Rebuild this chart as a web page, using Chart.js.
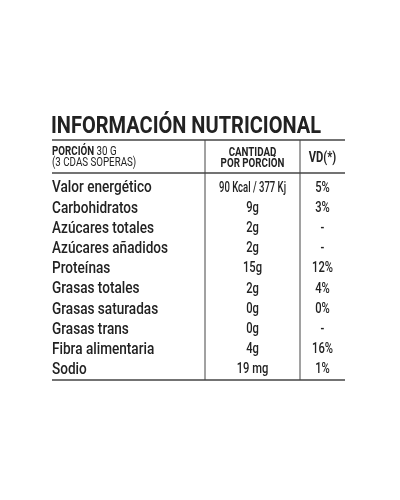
<!DOCTYPE html>
<html><head><meta charset="utf-8">
<script src="https://cdn.jsdelivr.net/npm/chart.js@4"></script>
<style>html,body{margin:0;background:#fff}</style></head>
<body><canvas id="c" width="400" height="500"></canvas>
<script>
const nutrients = ["Valor energético","Carbohidratos","Azúcares totales","Azúcares añadidos","Proteínas","Grasas totales","Grasas saturadas","Grasas trans","Fibra alimentaria","Sodio"];
const amounts = ["90 Kcal / 377 Kj","9g","2g","2g","15g","2g","0g","0g","4g","19 mg"];
const dailyValues = ["5%","3%","-","-","12%","4%","0%","-","16%","1%"];
const title = "INFORMACIÓN NUTRICIONAL";
const FN = 'Roboto,sans-serif';
function txt(ctx, s, x, y, font, align, sx){
  ctx.save(); ctx.font=font; ctx.textAlign=align;
  ctx.translate(x,y); ctx.scale(sx,1); ctx.fillText(s,0,0); ctx.restore();
}
const tablePlugin = {
  id:'table',
  afterDraw(chart){
    const ctx = chart.ctx, ys = chart.scales.y, a = chart.chartArea;
    const L=a.left, R=a.right, c1=205, c2=300, top=140;
    ctx.save();
    ctx.fillStyle='#222'; ctx.textBaseline='alphabetic';
    txt(ctx,title,L-1,133,'bold 23px '+FN,'left',0.87);
    ctx.strokeStyle='#444'; ctx.lineWidth=1.5;
    [top, 173, a.bottom].forEach(y=>{ctx.beginPath();ctx.moveTo(L,y);ctx.lineTo(R,y);ctx.stroke();});
    ctx.lineWidth=1;
    [c1,c2].forEach(x=>{ctx.beginPath();ctx.moveTo(x,top);ctx.lineTo(x,a.bottom);ctx.stroke();});
    txt(ctx,'PORCIÓN',L,155,'bold 13px '+FN,'left',0.75);
    ctx.font='bold 13px '+FN;
    const w=ctx.measureText('PORCIÓN ').width*0.75;
    txt(ctx,'30 G',L+w,155,'13px '+FN,'left',0.75);
    txt(ctx,'(3 CDAS SOPERAS)',L,166,'13px '+FN,'left',0.75);
    txt(ctx,'CANTIDAD',(c1+c2)/2,156,'bold 13px '+FN,'center',0.75);
    txt(ctx,'POR PORCIÓN',(c1+c2)/2,167,'bold 13px '+FN,'center',0.75);
    txt(ctx,'VD(*)',(c2+R)/2,162,'bold 14px '+FN,'center',0.8);
    ctx.textBaseline='middle';
    nutrients.forEach((n,i)=>{
      const y = ys.getPixelForValue(i);
      txt(ctx,n,L,y,'500 17px '+FN,'left',0.8);
      txt(ctx,amounts[i],(c1+c2)/2,y,'500 14px '+FN,'center',amounts[i].length>6?0.68:0.8);
      txt(ctx,dailyValues[i],(c2+R)/2,y,'500 14px '+FN,'center',0.8);
    });
    ctx.restore();
  }
};
new Chart(document.getElementById('c'),{
  type:'bar',
  data:{labels:nutrients,datasets:[{data:nutrients.map(()=>0),backgroundColor:'rgba(0,0,0,0)'}]},
  options:{responsive:false,animation:false,indexAxis:'y',
    layout:{padding:{top:178,bottom:120,left:52,right:55}},
    plugins:{legend:{display:false},tooltip:{enabled:false}},
    scales:{x:{display:false,min:0,max:1},y:{display:false,offset:true}}},
  plugins:[tablePlugin]
});
</script></body></html>
